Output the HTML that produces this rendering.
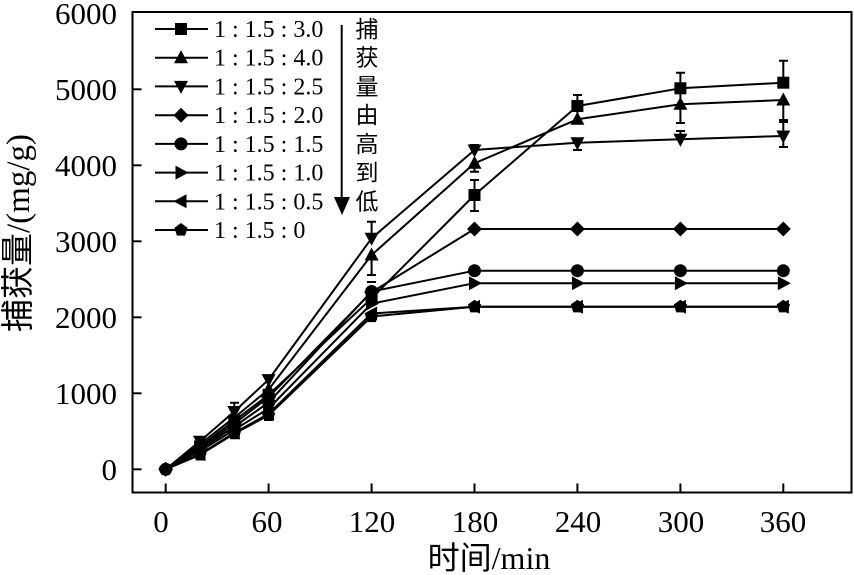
<!DOCTYPE html>
<html><head><meta charset="utf-8"><style>
html,body{margin:0;padding:0;background:#fff;}
svg{display:block;}
.t{font-family:"Liberation Serif","Noto Serif CJK SC",serif;fill:#000;}
.c{font-family:"Liberation Serif","Noto Sans CJK SC",serif;fill:#000;}
</style></head><body>
<svg width="854" height="575" viewBox="0 0 854 575" xmlns="http://www.w3.org/2000/svg">
<defs>
<rect id="sq" x="-6" y="-6" width="12" height="12"/>
<polygon id="tu" points="0,-7.5 7,5.5 -7,5.5"/>
<polygon id="td" points="0,7.5 7,-5.5 -7,-5.5"/>
<polygon id="di" points="0,-7.5 7.5,0 0,7.5 -7.5,0"/>
<circle id="ci" r="6.5"/>
<polygon id="tr" points="7.5,0 -5.5,-7 -5.5,7"/>
<polygon id="tl" points="-7.5,0 5.5,-7 5.5,7"/>
<polygon id="pe" points="0,-7 6.66,-2.16 4.11,5.66 -4.11,5.66 -6.66,-2.16"/>
</defs>
<rect x="132.5" y="12" width="719" height="480.5" fill="none" stroke="#000" stroke-width="2"/>
<g stroke="#000" stroke-width="2">
<line x1="132.5" y1="469.3" x2="141.5" y2="469.3"/>
<line x1="132.5" y1="393.3" x2="141.5" y2="393.3"/>
<line x1="132.5" y1="317.3" x2="141.5" y2="317.3"/>
<line x1="132.5" y1="241.3" x2="141.5" y2="241.3"/>
<line x1="132.5" y1="165.3" x2="141.5" y2="165.3"/>
<line x1="132.5" y1="89.3" x2="141.5" y2="89.3"/>
<line x1="165.7" y1="492.5" x2="165.7" y2="483.5"/>
<line x1="268.6" y1="492.5" x2="268.6" y2="483.5"/>
<line x1="371.6" y1="492.5" x2="371.6" y2="483.5"/>
<line x1="474.5" y1="492.5" x2="474.5" y2="483.5"/>
<line x1="577.4" y1="492.5" x2="577.4" y2="483.5"/>
<line x1="680.4" y1="492.5" x2="680.4" y2="483.5"/>
<line x1="783.3" y1="492.5" x2="783.3" y2="483.5"/>
</g>
<g class="t" font-size="31" text-anchor="end">
<text x="117" y="480">0</text>
<text x="117" y="404">1000</text>
<text x="117" y="328">2000</text>
<text x="117" y="252">3000</text>
<text x="117" y="176">4000</text>
<text x="117" y="100">5000</text>
<text x="117" y="24">6000</text>
</g>
<g class="t" font-size="31" text-anchor="middle">
<text x="161" y="532">0</text>
<text x="267" y="532">60</text>
<text x="372" y="532">120</text>
<text x="475" y="532">180</text>
<text x="578" y="532">240</text>
<text x="681" y="532">300</text>
<text x="783" y="532">360</text>
</g>
<text class="c" font-size="32" x="489" y="569" text-anchor="middle">时间/min</text>
<text class="c" font-size="33" text-anchor="middle" transform="translate(29,233) rotate(-90)">捕获量/(mg/g)</text>

<!-- series lines -->
<g fill="none" stroke="#000" stroke-width="2" stroke-linejoin="round">
<polyline points="165.7,469.3 200,446.5 234.3,420.7 268.6,394.8 371.6,298.3 474.5,195 577.4,106 680.4,88.3 783.3,82.7"/>
<polyline points="165.7,469.3 200,444.2 234.3,417.6 268.6,389.5 371.6,255 474.5,163.3 577.4,119.3 680.4,104.3 783.3,100"/>
<polyline points="165.7,469.3 200,441.2 234.3,411.5 268.6,379.6 371.6,238.3 474.5,150 577.4,142.7 680.4,139.3 783.3,136"/>
<polyline points="165.7,469.3 200,448 234.3,423.7 268.6,397.1 371.6,292.2 474.5,229 577.4,229 680.4,229 783.3,229"/>
<polyline points="165.7,469.3 200,449.5 234.3,426.7 268.6,402.4 371.6,291.5 474.5,270.7 577.4,270.7 680.4,270.7 783.3,270.7"/>
<polyline points="165.7,469.3 200,451.1 234.3,429.8 268.6,408.5 371.6,303.6 474.5,283.2 577.4,283.2 680.4,283.2 783.3,283.2"/>
<polyline points="165.7,469.3 200,454.1 234.3,432.8 268.6,413.8 371.6,313.5 474.5,306.7 577.4,306.7 680.4,306.7 783.3,306.7"/>
<polyline points="165.7,469.3 200,454.9 234.3,433.6 268.6,415.3 371.6,316.5 474.5,306.7 577.4,306.7 680.4,306.7 783.3,306.7"/>
</g>
<!-- error bars -->
<g fill="none" stroke="#000" stroke-width="2">
<path d="M474.5,180V211M470,180h9M470,211h9"/>
<path d="M577.4,95V117M573,95h9"/>
<path d="M680.4,72.7V104M676,72.7h9"/>
<path d="M783.3,60.7V83M779,60.7h9"/>
<path d="M680.4,104V123M676,123h9"/>
<path d="M783.3,100V120M779,120h9"/>
<path d="M577.4,143V150M573,150h9"/>
<path d="M680.4,131V139M676,131h9"/>
<path d="M783.3,122V147M779,122h9M779,147h9"/>
<path d="M474.5,145V150M470,145h9"/>
<path d="M474.5,163V171.7M470,171.7h9"/>
<path d="M371.6,221.7V238M367,221.7h9"/>
<path d="M371.6,255V276M367,275h9M367,282h9"/>
<path d="M234.3,402.7V411M230,402.7h9"/>
<path d="M268.6,408V420M264,420h9"/>
</g>
<!-- markers -->
<g fill="#000">
<use href="#sq" x="200" y="446.5"/><use href="#sq" x="234.3" y="420.7"/><use href="#sq" x="268.6" y="394.8"/><use href="#sq" x="371.6" y="298.3"/><use href="#sq" x="474.5" y="195"/><use href="#sq" x="577.4" y="106"/><use href="#sq" x="680.4" y="88.3"/><use href="#sq" x="783.3" y="82.7"/>
<use href="#tu" x="200" y="444.2"/><use href="#tu" x="234.3" y="417.6"/><use href="#tu" x="268.6" y="389.5"/><use href="#tu" x="371.6" y="255"/><use href="#tu" x="474.5" y="163.3"/><use href="#tu" x="577.4" y="119.3"/><use href="#tu" x="680.4" y="104.3"/><use href="#tu" x="783.3" y="100"/>
<use href="#td" x="200" y="441.2"/><use href="#td" x="234.3" y="411.5"/><use href="#td" x="268.6" y="379.6"/><use href="#td" x="371.6" y="238.3"/><use href="#td" x="474.5" y="150"/><use href="#td" x="577.4" y="142.7"/><use href="#td" x="680.4" y="139.3"/><use href="#td" x="783.3" y="136"/>
<use href="#di" x="200" y="448"/><use href="#di" x="234.3" y="423.7"/><use href="#di" x="268.6" y="397.1"/><use href="#di" x="371.6" y="292.2"/><use href="#di" x="474.5" y="229"/><use href="#di" x="577.4" y="229"/><use href="#di" x="680.4" y="229"/><use href="#di" x="783.3" y="229"/>
<use href="#ci" x="200" y="449.5"/><use href="#ci" x="234.3" y="426.7"/><use href="#ci" x="268.6" y="402.4"/><use href="#ci" x="371.6" y="291.5"/><use href="#ci" x="474.5" y="270.7"/><use href="#ci" x="577.4" y="270.7"/><use href="#ci" x="680.4" y="270.7"/><use href="#ci" x="783.3" y="270.7"/>
<use href="#tr" x="200" y="451.1"/><use href="#tr" x="234.3" y="429.8"/><use href="#tr" x="268.6" y="408.5"/><use href="#tr" x="371.6" y="303.6"/><use href="#tr" x="474.5" y="283.2"/><use href="#tr" x="577.4" y="283.2"/><use href="#tr" x="680.4" y="283.2"/><use href="#tr" x="783.3" y="283.2"/>
<use href="#tl" x="200" y="454.1"/><use href="#tl" x="234.3" y="432.8"/><use href="#tl" x="268.6" y="413.8"/><use href="#tl" x="371.6" y="313.5"/><use href="#tl" x="474.5" y="306.7"/><use href="#tl" x="577.4" y="306.7"/><use href="#tl" x="680.4" y="306.7"/><use href="#tl" x="783.3" y="306.7"/>
<use href="#pe" x="200" y="454.9"/><use href="#pe" x="234.3" y="433.6"/><use href="#pe" x="268.6" y="415.3"/><use href="#pe" x="371.6" y="316.5"/><use href="#pe" x="474.5" y="306.7"/><use href="#pe" x="577.4" y="306.7"/><use href="#pe" x="680.4" y="306.7"/><use href="#pe" x="783.3" y="306.7"/>
<use href="#pe" x="165.7" y="469.3"/><use href="#ci" x="165.7" y="469.3"/><use href="#di" x="165.7" y="469.3"/>
</g>
<!-- legend -->
<g stroke="#000" stroke-width="2">
<line x1="155" y1="29" x2="208" y2="29"/>
<line x1="155" y1="57.7" x2="208" y2="57.7"/>
<line x1="155" y1="86.4" x2="208" y2="86.4"/>
<line x1="155" y1="115.2" x2="208" y2="115.2"/>
<line x1="155" y1="143.9" x2="208" y2="143.9"/>
<line x1="155" y1="172.6" x2="208" y2="172.6"/>
<line x1="155" y1="201.3" x2="208" y2="201.3"/>
<line x1="155" y1="230" x2="208" y2="230"/>
<line x1="341.7" y1="25" x2="341.7" y2="200"/>
</g>
<g fill="#000">
<use href="#sq" x="181" y="29"/>
<use href="#tu" x="181" y="57.7"/>
<use href="#td" x="181" y="86.4"/>
<use href="#di" x="181" y="115.2"/>
<use href="#ci" x="181" y="143.9"/>
<use href="#tr" x="181" y="172.6"/>
<use href="#tl" x="181" y="201.3"/>
<use href="#pe" x="181" y="230"/>
<polygon points="334,197 350,197 342,215"/>
</g>
<g class="t" font-size="24">
<text x="214" y="37">1 : 1.5 : 3.0</text>
<text x="214" y="65.7">1 : 1.5 : 4.0</text>
<text x="214" y="94.4">1 : 1.5 : 2.5</text>
<text x="214" y="123.2">1 : 1.5 : 2.0</text>
<text x="214" y="151.9">1 : 1.5 : 1.5</text>
<text x="214" y="180.6">1 : 1.5 : 1.0</text>
<text x="214" y="209.3">1 : 1.5 : 0.5</text>
<text x="214" y="238">1 : 1.5 : 0</text>
</g>
<g class="c" font-size="23" text-anchor="middle">
<text x="367" y="37">捕</text>
<text x="367" y="65.7">获</text>
<text x="367" y="94.4">量</text>
<text x="367" y="123.2">由</text>
<text x="367" y="151.9">高</text>
<text x="367" y="180.6">到</text>
<text x="367" y="209.3">低</text>
</g>
</svg>
</body></html>
